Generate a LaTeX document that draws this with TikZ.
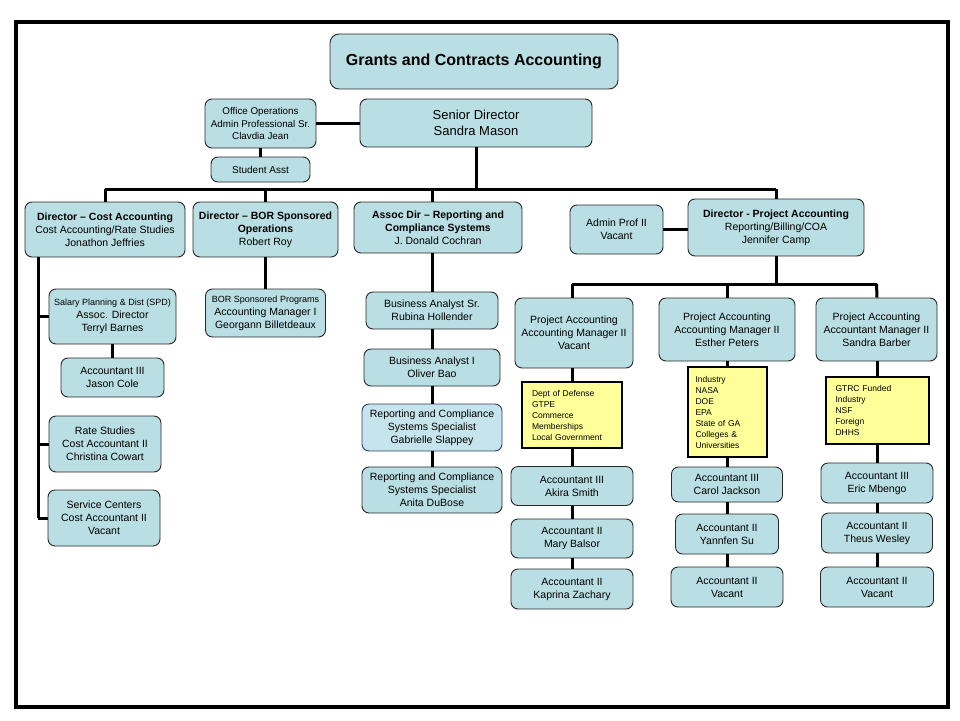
\documentclass[tikz,border=0pt]{standalone}
\usepackage{fontspec}
\setmainfont{Liberation Sans}
\definecolor{boxfill}{RGB}{185,222,227}
\definecolor{boxline}{RGB}{40,40,40}
\definecolor{fundfill}{RGB}{255,255,153}
\definecolor{specline}{RGB}{45,60,115}
\definecolor{specfill}{RGB}{198,228,236}
\tikzset{
  orgbox/.style={draw=boxline, line width=0.9pt, fill=boxfill, rounded corners=7pt,
    align=center, inner sep=2pt, font=\fontsize{10.5}{13}\selectfont},
  fundbox/.style={draw, line width=2pt, fill=fundfill, align=left, inner xsep=10pt,
    inner ysep=2pt, font=\fontsize{8.5}{11}\selectfont},
  link/.style={line width=3pt},
  thinlink/.style={line width=2.2pt},
}
\begin{document}
\begin{tikzpicture}[x=1pt,y=-1pt]
\useasboundingbox (0,0) rectangle (960,720);
\draw[line width=4pt] (16,22) rectangle (948,707);

\node[orgbox, rounded corners=9pt, minimum width=288, minimum height=55, font=\fontsize{16}{19}\selectfont] (title) at (474,61.5) {\textbf{Grants and Contracts Accounting}};
\node[orgbox, minimum width=232, minimum height=48, font=\fontsize{13}{16}\selectfont] (senior) at (476,123) {Senior Director\\Sandra Mason};
\node[orgbox, minimum width=111, minimum height=49, font=\fontsize{9.8}{12.5}\selectfont] (office) at (260.5,123.5) {Office Operations\\Admin Professional Sr.\\Clavdia Jean};
\node[orgbox, minimum width=99, minimum height=25, font=\fontsize{10}{12}\selectfont] (student) at (260.5,169.5) {Student Asst};

\coordinate (topbar) at (476,189);
\node[orgbox, minimum width=160, minimum height=55] (cost) at (105,229.5) {\textbf{Director -- Cost Accounting}\\Cost Accounting/Rate Studies\\Jonathon Jeffries};
\node[orgbox, minimum width=145, minimum height=55] (bor) at (265.5,229.5) {\textbf{Director -- BOR Sponsored}\\\textbf{Operations}\\Robert Roy};
\node[orgbox, minimum width=168, minimum height=51] (assoc) at (438,227.5) {\textbf{Assoc Dir -- Reporting and}\\\textbf{Compliance Systems}\\J. Donald Cochran};
\node[orgbox, minimum width=93, minimum height=49] (admin) at (616.5,229.5) {Admin Prof II\\Vacant};
\node[orgbox, minimum width=176, minimum height=57] (proj) at (776,227.5) {\textbf{Director - Project Accounting}\\Reporting/Billing/COA\\Jennifer Camp};

\coordinate (costbus) at (38,518);
\node[orgbox, minimum width=127, minimum height=55] (spd) at (112.5,316.5) {{\fontsize{9}{11}\selectfont Salary Planning \& Dist (SPD)}\\Assoc. Director\\Terryl Barnes};
\node[orgbox, minimum width=103, minimum height=39] (jason) at (112.5,377.5) {Accountant III\\Jason Cole};
\node[orgbox, minimum width=112, minimum height=56] (rate) at (105,444) {Rate Studies\\Cost Accountant II\\Christina Cowart};
\node[orgbox, minimum width=112, minimum height=56] (service) at (104,518) {Service Centers\\Cost Accountant II\\Vacant};

\node[orgbox, minimum width=120, minimum height=48] (borprog) at (265.5,313) {{\fontsize{9}{11}\selectfont BOR Sponsored Programs}\\Accounting Manager I\\Georgann Billetdeaux};

\node[orgbox, minimum width=132, minimum height=37] (basr) at (432,310.5) {Business Analyst Sr.\\Rubina Hollender};
\node[orgbox, minimum width=136, minimum height=37] (bai) at (432,367.5) {Business Analyst I\\Oliver Bao};
\node[orgbox, draw=specline, fill=specfill, minimum width=140, minimum height=47] (gab) at (432,427.5) {Reporting and Compliance\\Systems Specialist\\Gabrielle Slappey};
\node[orgbox, minimum width=140, minimum height=46] (anita) at (432,490) {Reporting and Compliance\\Systems Specialist\\Anita DuBose};

\coordinate (projbar) at (776,284);
\node[orgbox, minimum width=118, minimum height=70] (pmv) at (574,333) {Project Accounting\\Accounting Manager II\\Vacant};
\node[orgbox, minimum width=136, minimum height=63] (pme) at (727,329.5) {Project Accounting\\Accounting Manager II\\Esther Peters};
\node[orgbox, minimum width=121, minimum height=63] (pms) at (876.5,329.5) {Project Accounting\\Accountant Manager II\\Sandra Barber};

\node[fundbox, text width=80, minimum height=66] (fund1) at (572,415) {Dept of Defense\\GTPE\\Commerce\\Memberships\\Local Government};
\node[fundbox, inner xsep=8pt, text width=63, minimum height=90] (fund2) at (727,412) {Industry\\NASA\\DOE\\EPA\\State of GA\\Colleges \&\\Universities};
\node[fundbox, text width=83, minimum height=67] (fund3) at (877,410.5) {GTRC Funded\\Industry\\NSF\\Foreign\\DHHS};

\node[orgbox, minimum width=122, minimum height=39] (akira) at (572,486) {Accountant III\\Akira Smith};
\node[orgbox, minimum width=122, minimum height=39] (mary) at (572,538.5) {Accountant II\\Mary Balsor};
\node[orgbox, minimum width=122, minimum height=40] (kaprina) at (572,589) {Accountant II\\Kaprina Zachary};
\node[orgbox, minimum width=111, minimum height=35] (carol) at (727,484.5) {Accountant III\\Carol Jackson};
\node[orgbox, minimum width=103, minimum height=40] (yann) at (727,534) {Accountant II\\Yannfen Su};
\node[orgbox, minimum width=112, minimum height=40] (vac2) at (727,587) {Accountant II\\Vacant};
\node[orgbox, minimum width=112, minimum height=40] (eric) at (877,483) {Accountant III\\Eric Mbengo};
\node[orgbox, minimum width=111, minimum height=40] (theus) at (877,533) {Accountant II\\Theus Wesley};
\node[orgbox, minimum width=113, minimum height=40] (vac3) at (877,587) {Accountant II\\Vacant};

\draw[link] (office.east) -- (office.east -| senior.west);
\draw[thinlink] (office.south) -- (student.north);
\draw[link] (senior.south) -- (topbar);
\draw[link] (topbar -| cost.north) -- (topbar -| proj.north);
\foreach \n in {cost,bor,proj}
  \draw[link] (topbar -| \n.north) -- (\n.north);
\draw[link] (topbar -| basr.north) -- (basr.north |- assoc.north);
\draw[link] (admin.east) -- (admin.east -| proj.west);

\draw[link] (cost.south -| costbus) -- (costbus);
\foreach \n in {spd,rate,service}
  \draw[link] (\n.west -| costbus) -- (\n.west);
\draw[link] (spd.south -| jason.north) -- (jason.north);
\draw[link] (bor.south) -- (borprog.north);

\draw[link] (assoc.south -| basr.north) -- (basr.north);
\draw[link] (basr.south) -- (bai.north);
\draw[link] (bai.south) -- (gab.north);
\draw[link] (gab.south) -- (anita.north);

\draw[link] (proj.south) -- (projbar);
\draw[link] (projbar -| fund1.north) -- (projbar -| fund3.north);
\draw[link] (projbar -| fund1.north) -- (pmv.north -| fund1.north);
\draw[link] (projbar -| pme.north) -- (pme.north);
\draw[link] (projbar -| pms.north) -- (pms.north -| fund3.north);

\draw[link] (pmv.south -| fund1.north) -- (fund1.north);
\draw[link] (pme.south) -- (fund2.north);
\draw[link] (pms.south -| fund3.north) -- (fund3.north);
\draw[link] (fund1.south) -- (akira.north);
\draw[link] (akira.south) -- (mary.north);
\draw[link] (mary.south) -- (kaprina.north);
\draw[link] (fund2.south) -- (carol.north);
\draw[link] (carol.south) -- (yann.north);
\draw[link] (yann.south) -- (vac2.north);
\draw[link] (fund3.south) -- (eric.north);
\draw[link] (eric.south) -- (theus.north);
\draw[link] (theus.south) -- (vac3.north);
\end{tikzpicture}
\end{document}
